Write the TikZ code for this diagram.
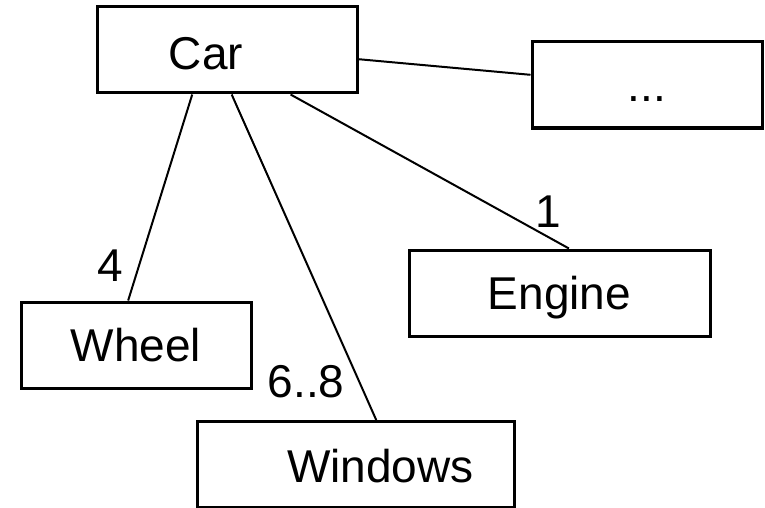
\documentclass[tikz,border=0pt]{standalone}
\usepackage{fontspec}
\setmainfont{Liberation Sans}
\usepackage{tikz}
\usetikzlibrary{positioning}
\usetikzlibrary{calc}

\begin{document}
\begin{tikzpicture}[x=0.5pt, y=-0.5pt, line width=1pt,
txt/.style = {inner sep=0pt, text height=16.5pt, text depth=0pt,
	font=\fontsize{23}{27}\selectfont},
part/.style = {rectangle, draw=black, line width=1.5pt, fill=white,
	minimum height=43pt, minimum width=#1, txt},
mult/.style = {inner sep=0pt, font=\fontsize{23}{27}\selectfont}
]
\useasboundingbox (0,0) rectangle (765,508);
% Draw the parts
\node[part=130pt]   (car)     at (227,50)      {};
\node[txt]          (car-txt) at (206,53.5)    {Car};
\node[part=115pt]   (more)    at (647,85)      {...};
\node[part=115pt]   (wheel)   at (136,345)     {Wheel};
\node[part=150.5pt] (engine)  at (559.5,293)   {Engine};
\node[part=158.5pt] (windows) at (355.5,464.5) {};
\node[txt]          (windows-txt) at (380.5,465.5) {Windows};

% Draw the multiplicities
\node[mult] (m-wheel)   at (110,266) {4};
\node[mult] (m-engine)  at (548,212) {1};
\node[mult] (m-windows) at (306,382) {6..8};

% Connect the car with its parts
\draw (car.-4.4)   -- (more.175.5);
\draw (car.232.5)  -- (wheel.100.5);
\draw (car.276.6)  -- (windows.65.4);
\draw (car.325.7)  -- (engine.78.8);
\end{tikzpicture}
\end{document}
